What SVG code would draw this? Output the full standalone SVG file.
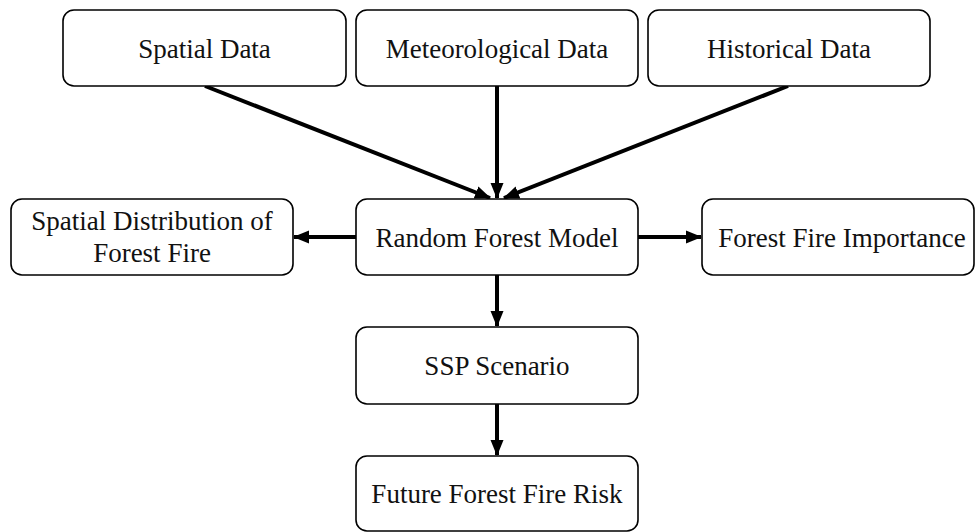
<svg xmlns="http://www.w3.org/2000/svg" width="975" height="532" viewBox="0 0 975 532">
<style>
.box{fill:#fff;stroke:#000;stroke-width:1.6}
.t{font-family:"Liberation Serif","Times New Roman",serif;font-size:27px;fill:#111;text-anchor:middle}
.c{stroke:#000;stroke-width:4;fill:none;marker-end:url(#ah)}
</style>
<defs>
<marker id="ah" markerUnits="userSpaceOnUse" markerWidth="16" markerHeight="16" viewBox="0 0 16 16" refX="15" refY="8" orient="auto">
<path d="M0,1.5 L16,8 L0,14.5 Z" fill="#000"/>
</marker>
</defs>
<g id="connectors">
<line class="c" x1="205" y1="86" x2="490" y2="198"/>
<line class="c" x1="497" y1="86" x2="497" y2="198"/>
<line class="c" x1="788" y1="86" x2="504" y2="198"/>
<line class="c" x1="356" y1="237" x2="294" y2="237"/>
<line class="c" x1="638" y1="237" x2="701" y2="237"/>
<line class="c" x1="497" y1="275" x2="497" y2="326"/>
<line class="c" x1="497" y1="404" x2="497" y2="455"/>
</g>
<g id="spatial-data">
<rect class="box" x="63" y="10" width="283" height="76" rx="11"/>
<text class="t" x="204.5" y="58">Spatial Data</text>
</g>
<g id="meteorological-data">
<rect class="box" x="356" y="10" width="282" height="76" rx="11"/>
<text class="t" x="497" y="58">Meteorological Data</text>
</g>
<g id="historical-data">
<rect class="box" x="648" y="10" width="282" height="76" rx="11"/>
<text class="t" x="789" y="58">Historical Data</text>
</g>
<g id="spatial-distribution">
<rect class="box" x="11" y="199" width="282" height="76" rx="11"/>
<text class="t" x="152" y="230">Spatial Distribution of</text>
<text class="t" x="152" y="262">Forest Fire</text>
</g>
<g id="random-forest-model">
<rect class="box" x="356" y="199" width="282" height="76" rx="11"/>
<text class="t" x="497" y="247">Random Forest Model</text>
</g>
<g id="forest-fire-importance">
<rect class="box" x="702" y="199" width="272" height="76" rx="11"/>
<text class="t" x="842" y="247">Forest Fire Importance</text>
</g>
<g id="ssp-scenario">
<rect class="box" x="356" y="327" width="282" height="77" rx="11"/>
<text class="t" x="497" y="375">SSP Scenario</text>
</g>
<g id="future-risk">
<rect class="box" x="356" y="456" width="282" height="75" rx="11"/>
<text class="t" x="497" y="503">Future Forest Fire Risk</text>
</g>
</svg>
